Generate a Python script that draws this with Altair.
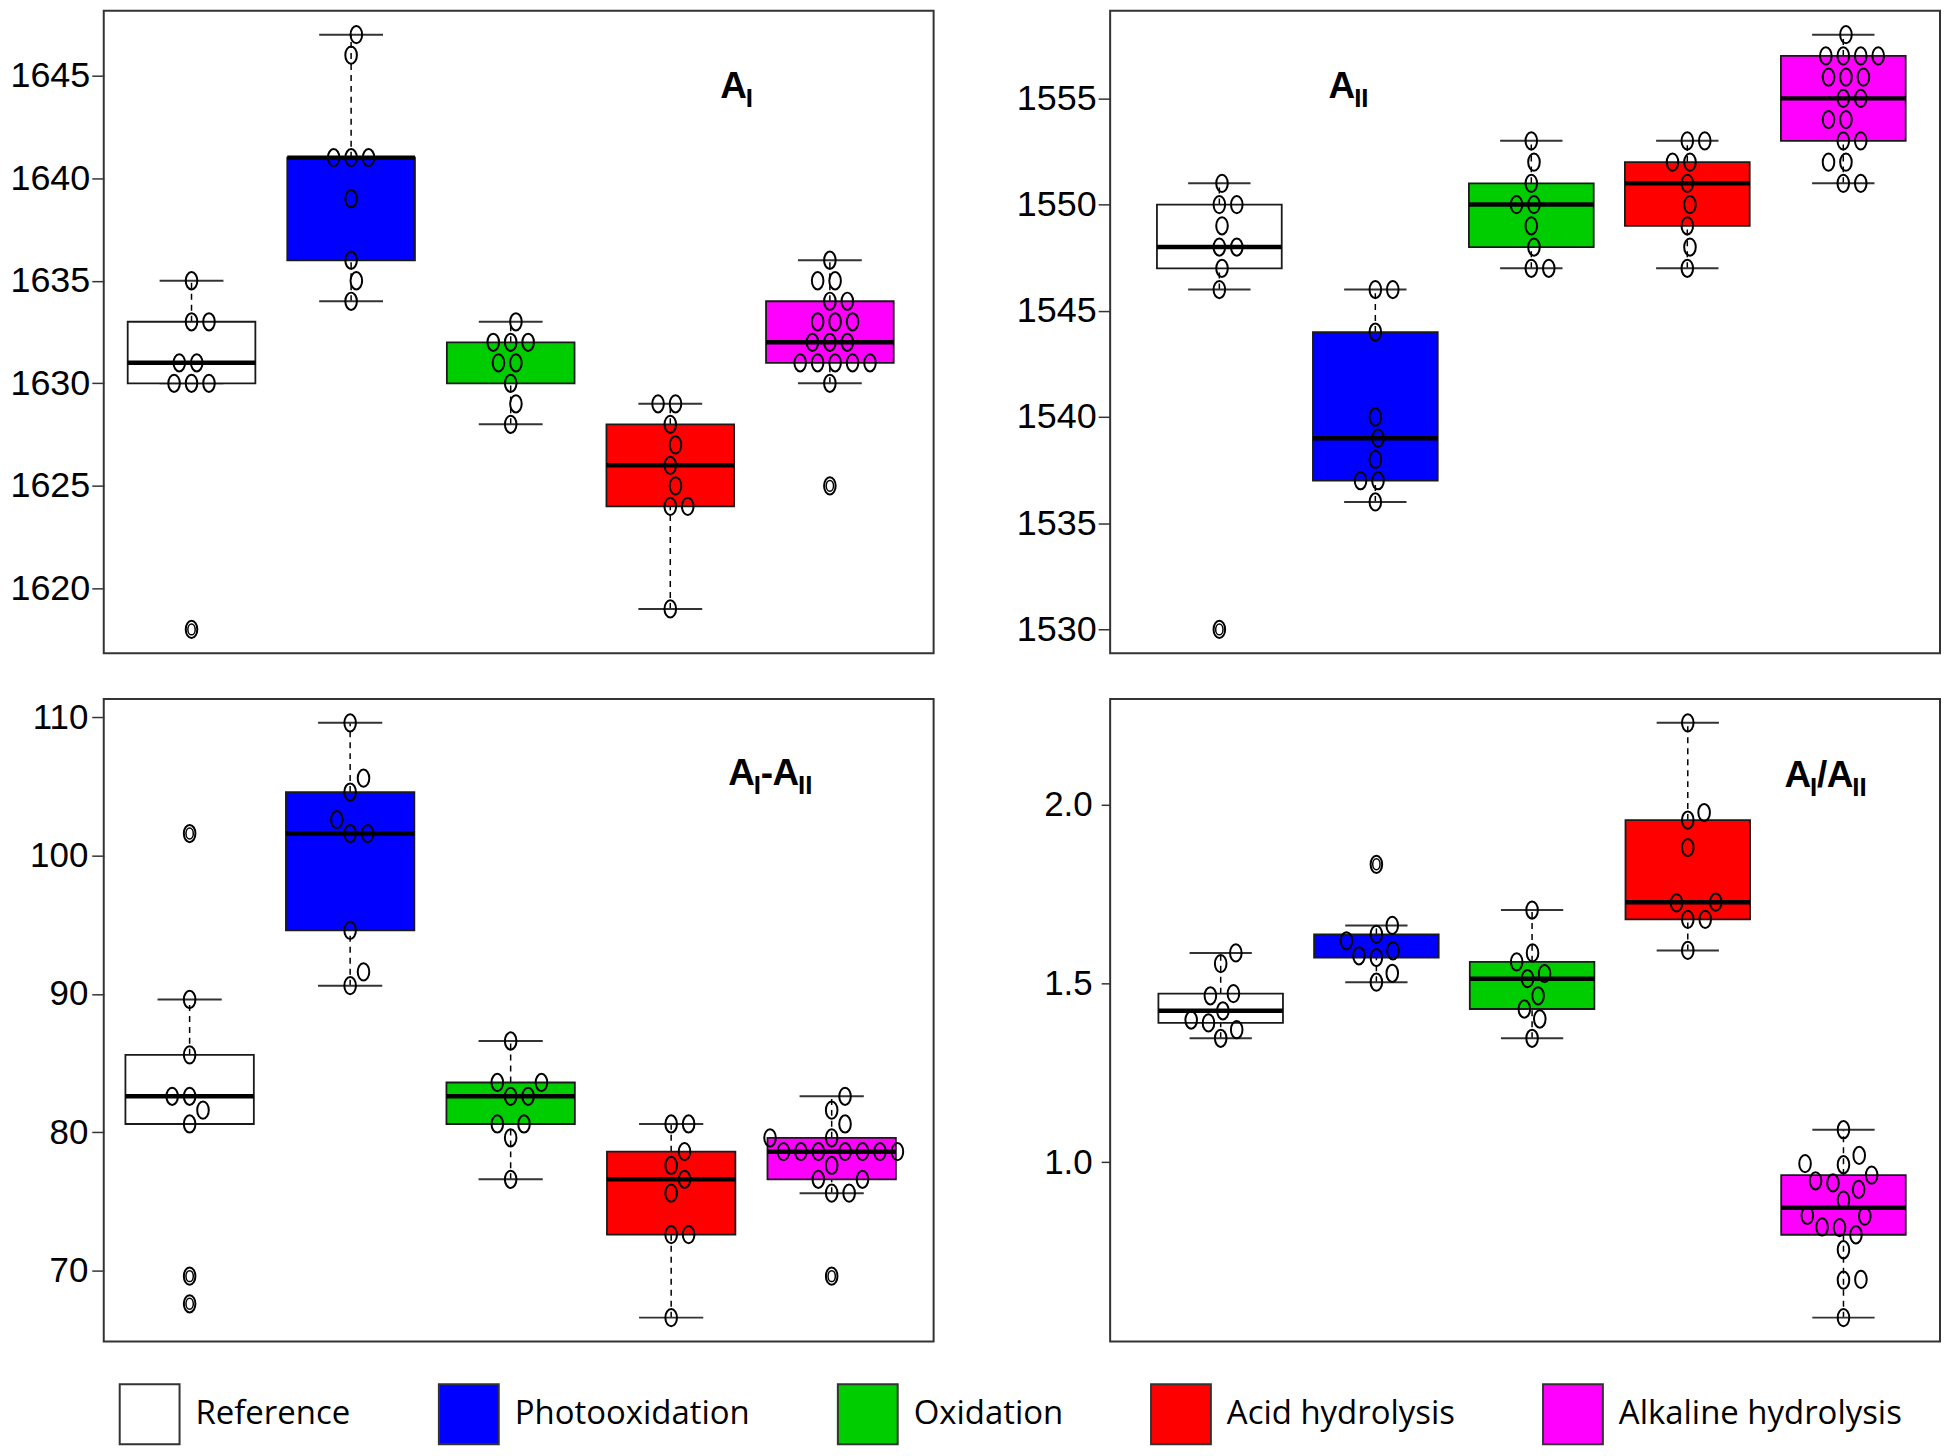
import altair as alt
import numpy as np
import pandas as pd

# ---------------- data ----------------
GROUPS = ["Reference", "Photooxidation", "Oxidation", "Acid hydrolysis", "Alkaline hydrolysis"]
COLORS = ["#FFFFFF", "#0000FF", "#00CD00", "#FF0000", "#FF00FF"]

# Panel A_I
AI_reference = [1635, 1633, 1633, 1631, 1631, 1630, 1630, 1630, 1618]
AI_photo = [1647, 1646, 1641, 1641, 1641, 1639, 1636, 1635, 1634]
AI_oxid = [1633, 1632, 1632, 1632, 1631, 1631, 1630, 1629, 1628]
AI_acid = [1629, 1629, 1628, 1627, 1626, 1625, 1624, 1624, 1619]
AI_alk = [1636, 1635, 1635, 1634, 1634, 1633, 1633, 1633, 1632, 1632, 1632,
          1631, 1631, 1631, 1631, 1631, 1630, 1625]

# Panel A_II
AII_reference = [1551, 1550, 1550, 1549, 1548, 1548, 1547, 1546, 1530]
AII_photo = [1546, 1546, 1544, 1540, 1539, 1538, 1537, 1537, 1536]
AII_oxid = [1553, 1552, 1551, 1550, 1550, 1549, 1548, 1547, 1547]
AII_acid = [1553, 1553, 1552, 1552, 1551, 1550, 1549, 1548, 1547]
AII_alk = [1558, 1557, 1557, 1557, 1557, 1556, 1556, 1556, 1555, 1555,
           1554, 1554, 1553, 1553, 1552, 1552, 1551, 1551]

# Panel A_I - A_II
D_reference = [89.6, 85.6, 82.6, 82.6, 81.6, 80.6, 101.6, 69.6, 67.6]
D_photo = [109.6, 105.6, 104.6, 102.6, 101.6, 101.6, 94.6, 91.6, 90.6]
D_oxid = [86.6, 83.6, 83.6, 82.6, 82.6, 80.6, 80.6, 79.6, 76.6]
D_acid = [80.6, 80.6, 78.6, 77.6, 76.6, 75.6, 72.6, 72.6, 66.6]
D_alk = [82.6, 81.6, 80.6, 79.6, 79.6, 78.6, 78.6, 78.6, 78.6, 78.6, 78.6, 78.6,
         77.6, 76.6, 76.6, 75.6, 75.6, 69.6]

# Panel A_I / A_II
R_reference = [1.586, 1.556, 1.472, 1.466, 1.424, 1.398, 1.390, 1.371, 1.347]
R_photo = [1.834, 1.663, 1.638, 1.620, 1.592, 1.578, 1.573, 1.529, 1.504]
R_oxid = [1.706, 1.586, 1.561, 1.528, 1.514, 1.466, 1.429, 1.401, 1.347]
R_acid = [2.230, 1.979, 1.958, 1.881, 1.728, 1.726, 1.680, 1.680, 1.593]
R_alk = [1.091, 1.019, 0.996, 0.993, 0.964, 0.948, 0.942, 0.924, 0.894, 0.851,
         0.849, 0.819, 0.817, 0.797, 0.755, 0.672, 0.670, 0.565]

TICKS_AI = [1620, 1625, 1630, 1635, 1640, 1645]
TICKS_AII = [1530, 1535, 1540, 1545, 1550, 1555]
TICKS_D = [70, 80, 90, 100, 110]
TICKS_R = [1.0, 1.5, 2.0]

# boxes whose median line is not visible in the reference
HIDDEN_MEDIAN = {("AI", "Oxidation"), ("R", "Photooxidation")}

# ---------------- layout / style ----------------
W, H = 832, 644
ELLIPSE = "M -0.67 0 A 0.67 1 0 1 0 0.67 0 A 0.67 1 0 1 0 -0.67 0 Z"
TICK_FONT = "Liberation Sans"
TITLE_FONT = "Liberation Sans"
ADV = {"A": 0.722, "I": 0.278, "-": 0.333, "/": 0.278}

color_scale = alt.Scale(domain=GROUPS, range=COLORS)
legend = alt.Legend(
    orient="none", legendX=15, legendY=1376, direction="horizontal", columns=5,
    title=None, symbolType="square", symbolSize=3600, symbolStrokeColor="#333",
    symbolStrokeWidth=2, symbolOpacity=1, labelFont="Open Sans", labelFontSize=33,
    labelColor="black", labelOffset=15, columnPadding=84, padding=0, labelLimit=0,
    labelBaseline="middle",
)


def fivenum(v):
    x = np.sort(np.asarray(v, float))
    n = len(x)
    n4 = np.floor((n + 3) / 2) / 2
    d = np.array([1, n4, (n + 1) / 2, n + 1 - n4, n]) - 1
    return 0.5 * (x[np.floor(d).astype(int)] + x[np.ceil(d).astype(int)])


def swarm(values, ppu, w=17.5, h=21.55):
    vals = np.asarray(values, float)
    order = np.argsort(vals, kind="stable")
    offs = np.zeros(len(vals))
    placed = []
    for i in order:
        y = vals[i] * ppu
        forb = []
        for px, py in placed:
            dy = abs(y - py)
            if dy < h:
                r = w * np.sqrt(1 - (dy / h) ** 2)
                forb.append((px - r, px + r))
        cands = [0.0] + [a for a, b in forb] + [b for a, b in forb]
        cands.sort(key=lambda c: (round(abs(c), 6), -c))
        for c in cands:
            if all(not (a + 1e-6 < c < b - 1e-6) for a, b in forb):
                offs[i] = c
                break
        placed.append((offs[i], y))
    return offs


def panel(key, series, ticks, fmt, xdom, title, tx, ty, fsize, lpad, tsize):
    allv = np.concatenate([np.asarray(s, float) for s in series])
    lo, hi = allv.min(), allv.max()
    ydom = [lo - 0.04 * (hi - lo), hi + 0.04 * (hi - lo)]
    ppu_y = H / (ydom[1] - ydom[0])
    ppu_x = W / (xdom[1] - xdom[0])

    boxes, pts, outs = [], [], []
    for k, (g, s) in enumerate(zip(GROUPS, series)):
        pos = k + 1
        f = fivenum(s)
        x = np.asarray(s, float)
        iqr = f[3] - f[1]
        inside = x[(x >= f[1] - 1.5 * iqr) & (x <= f[3] + 1.5 * iqr)]
        boxes.append(dict(group=g, pos=pos, b1=pos - 0.4, b2=pos + 0.4, s1=pos - 0.2, s2=pos + 0.2,
                          q1=f[1], med=f[2], q3=f[3], lo=inside.min(), hi=inside.max(),
                          showmed=(key, g) not in HIDDEN_MEDIAN))
        for v in x[(x < inside.min()) | (x > inside.max())]:
            outs.append(dict(group=g, pos=pos, v=v))
        offs = swarm(s, ppu_y)
        for v, o in zip(x, offs):
            pts.append(dict(group=g, px=pos + o / ppu_x, v=v))
    bdf = pd.DataFrame(boxes)
    mdf = bdf[bdf["showmed"]]
    pdf = pd.DataFrame(pts)
    odf = pd.DataFrame(outs) if outs else pd.DataFrame(dict(group=[], pos=[], v=[]))

    xs = alt.Scale(domain=xdom, nice=False, zero=False)
    ys = alt.Scale(domain=ydom, nice=False, zero=False)
    yaxis = alt.Axis(values=ticks, format=fmt, title=None, domain=False, grid=False,
                     tickSize=tsize, tickWidth=1.5, tickColor="#333", labelFont=TICK_FONT,
                     labelFontSize=fsize, labelColor="black", labelPadding=lpad,
                     labelFlush=False, labelOverlap=False)

    def X(f):
        return alt.X(f, type="quantitative", scale=xs, axis=None)

    def Y(f):
        return alt.Y(f, type="quantitative", scale=ys, axis=yaxis)

    base = alt.Chart(bdf)
    layers = [
        base.mark_rule(strokeDash=[6, 5], strokeWidth=1.5, color="black").encode(
            x=X("pos"), y=Y("q3"), y2="hi"),
        base.mark_rule(strokeDash=[6, 5], strokeWidth=1.5, color="black").encode(
            x=X("pos"), y=Y("lo"), y2="q1"),
        base.mark_rule(strokeWidth=2, color="#333").encode(x=X("s1"), x2="s2", y=Y("hi")),
        base.mark_rule(strokeWidth=2, color="#333").encode(x=X("s1"), x2="s2", y=Y("lo")),
        base.mark_rect(stroke="#1a1a1a", strokeWidth=1.8, opacity=1).encode(
            x=X("b1"), x2="b2", y=Y("q1"), y2="q3",
            color=alt.Color("group:N", scale=color_scale, legend=legend)),
        alt.Chart(mdf).mark_rule(strokeWidth=4.5, color="black").encode(
            x=X("b1"), x2="b2", y=Y("med")),
        alt.Chart(odf).mark_point(shape=ELLIPSE, size=120, filled=False, color="black",
                                  strokeWidth=1.5, opacity=1).encode(x=X("pos"), y=Y("v")),
        alt.Chart(pdf).mark_point(shape=ELLIPSE, size=300, filled=False, color="black",
                                  strokeWidth=2, opacity=1).encode(x=X("px"), y=Y("v")),
    ]
    # panel label: "A" with subscripts
    cx = tx
    for seg, sub in title:
        size = 26 if sub else 37
        layers.append(
            alt.Chart().mark_text(text=seg, font=TITLE_FONT, fontWeight="bold", fontSize=size,
                                  align="left", baseline="alphabetic", color="black")
            .encode(x=alt.value(cx), y=alt.value(ty + (9 if sub else 0)))
        )
        cx += sum(ADV[c] for c in seg) * size * 0.96
    return alt.layer(*layers).properties(width=W, height=H)


p1 = panel("AI", [AI_reference, AI_photo, AI_oxid, AI_acid, AI_alk], TICKS_AI, "d",
           [0.45, 5.65], [("A", False), ("I", True)], 618, 87, 36, 2, 12)
p2 = panel("AII", [AII_reference, AII_photo, AII_oxid, AII_acid, AII_alk], TICKS_AII, "d",
           [0.30, 5.62], [("A", False), ("II", True)], 219, 87, 36, 2, 12)
p3 = panel("D", [D_reference, D_photo, D_oxid, D_acid, D_alk], TICKS_D, "d",
           [0.465, 5.635], [("A", False), ("I", True), ("-", False), ("A", False), ("II", True)],
           626, 86, 35, 4, 12)
p4 = panel("R", [R_reference, R_photo, R_oxid, R_acid, R_alk], TICKS_R, ".1f",
           [0.29, 5.62], [("A", False), ("I", True), ("/", False), ("A", False), ("II", True)],
           676, 88, 35, 9, 9)

chart = alt.concat(p1, p2, p3, p4, columns=2, spacing={"row": 44, "column": 80}).properties(
    padding=0, background="white"
).configure_view(stroke="#333", strokeWidth=2)

chart.save("out.html", embed_options={"renderer": "svg", "actions": False})
